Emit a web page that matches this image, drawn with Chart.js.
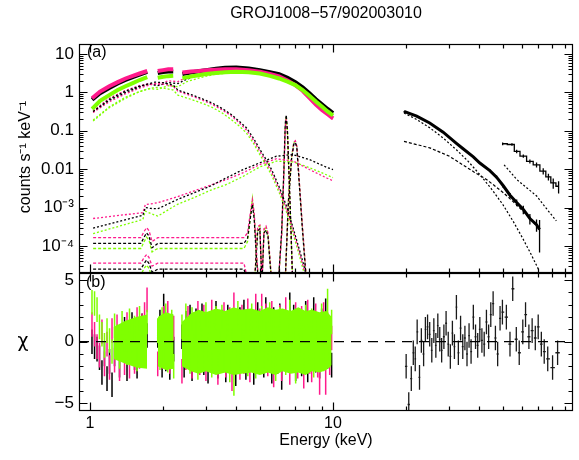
<!DOCTYPE html>
<html>
<head>
<meta charset="utf-8">
<title>GROJ1008-57/902003010</title>
<script src="https://cdn.jsdelivr.net/npm/chart.js@4.4.1/dist/chart.umd.min.js"></script>
<style>
  html, body { margin:0; padding:0; background:#fff; }
  #wrap { position:relative; width:579px; height:460px; overflow:hidden; background:#fff; }
  canvas { position:absolute; left:0; }
  #top { top:0; }
  #bot { top:273px; }
</style>
</head>
<body>
<div id="wrap">
  <canvas id="top" width="579" height="274" style="width:579px;height:274px"></canvas>
  <canvas id="bot" width="579" height="187" style="width:579px;height:187px"></canvas>
</div>
<script>
// ---------------- axis ranges and tick labels ----------------
const xMin = 0.901, xMax = 97.2;
const yTopMin = 1.98e-5, yTopMax = 18.2;
const yBotMin = -5.63, yBotMax = 5.58;
const xMajorTicks = [1, 10];
const xTickLabels = ['1', '10'];
const xMinorTicks = [2, 3, 4, 5, 6, 7, 8, 9, 20, 30, 40, 50, 60, 70, 80, 90];
const yTopTickVals = [1e-4, 1e-3, 0.01, 0.1, 1, 10];
const yTopTickLabels = ['10\u207B\u2074', '10\u207B\u00B3', '0.01', '0.1', '1', '10'];
const yBotTickVals = [-5, 0, 5];
const yBotTickLabels = ['\u22125', '0', '5'];
const yBotMinorTicks = [-4, -3, -2, -1, 1, 2, 3, 4];

// ---------------- top panel: data (three detectors, 1-10 keV) ----------------
const dE1 = [1.02, 1.1, 1.2, 1.3, 1.4, 1.5, 1.6, 1.72];
const dE2 = [1.9, 2.0, 2.1, 2.2];
const dE3 = [2.4, 2.6, 2.8, 3.0, 3.3, 3.6, 4.0, 4.5, 5.0, 5.5, 6.0, 6.5, 7.0, 7.5, 8.0, 8.5, 9.0, 9.5, 10.0];
const dataBlack1 = [0.65, 0.95, 1.3, 1.7, 2.1, 2.5, 2.9, 3.4];
const dataBlack2 = [3.2, 3.4, 3.5, 3.5];
const dataBlack3 = [3.0, 3.3, 3.55, 3.8, 4.1, 4.35, 4.45, 4.2, 3.8, 3.35, 3.0, 2.4, 1.85, 1.35, 0.95, 0.66, 0.49, 0.37, 0.29];
const dataPink1 = [0.7, 1.05, 1.45, 1.85, 2.3, 2.7, 3.1, 3.6];
const dataPink2 = [3.6, 3.8, 4.0, 4.0];
const dataPink3 = [3.3, 3.5, 3.6, 3.75, 3.9, 4.0, 4.0, 3.8, 3.45, 3.0, 2.6, 2.05, 1.55, 1.1, 0.72, 0.48, 0.35, 0.27, 0.21];
const dataGreen1 = [0.37, 0.6, 0.85, 1.15, 1.45, 1.75, 2.1, 2.5];
const dataGreen2 = [2.4, 2.55, 2.65, 2.7];
const dataGreen3 = [2.35, 2.6, 2.8, 3.0, 3.2, 3.35, 3.45, 3.35, 3.1, 2.7, 2.3, 1.9, 1.55, 1.15, 0.82, 0.58, 0.43, 0.32, 0.25];

// ---------------- top panel: model components ----------------
const softE = [1.03, 1.2, 1.4, 1.6, 1.75, 1.85, 2.0, 2.2, 2.3, 2.6, 2.9, 3.2, 3.5, 3.8, 4.1, 4.4, 4.7, 5.0, 5.3, 5.6, 6.0, 6.4, 6.8, 7.2, 7.6, 8.0];
const softBlack = [0.32, 0.62, 1.0, 1.4, 1.7, 1.85, 1.8, 1.55, 1.15, 0.88, 0.68, 0.52, 0.38, 0.27, 0.18, 0.12, 0.065, 0.033, 0.018, 0.0095, 0.0035, 0.0012, 3.5e-4, 1e-4, 3e-5, 8e-6];
const softPink = [0.3, 0.57, 0.92, 1.3, 1.55, 1.7, 1.65, 1.45, 1.08, 0.82, 0.63, 0.48, 0.35, 0.25, 0.165, 0.105, 0.057, 0.029, 0.0155, 0.0082, 0.003, 0.001, 3e-4, 8.5e-5, 2.5e-5, 7e-6];
const softGreen = [0.18, 0.4, 0.7, 1.05, 1.25, 1.35, 1.3, 1.15, 0.85, 0.66, 0.52, 0.4, 0.29, 0.2, 0.135, 0.088, 0.048, 0.024, 0.013, 0.0068, 0.0025, 8.5e-4, 2.5e-4, 7e-5, 2e-5, 6e-6];

const mainE = [1.03, 1.2, 1.4, 1.6, 1.75, 1.9, 2.1, 2.3, 2.5, 2.8, 3.2, 3.6, 4.0, 4.5, 5.0, 5.5, 6.0, 6.5, 7.0, 7.5, 8.0, 8.5, 9.0, 9.5, 10.0];
const mainBlack = [0.31, 0.66, 1.08, 1.45, 1.65, 1.5, 1.8, 1.7, 2.2, 2.8, 3.5, 3.95, 4.25, 4.15, 3.75, 3.3, 2.95, 2.35, 1.8, 1.3, 0.92, 0.64, 0.47, 0.36, 0.28];
const mainPink = [0.33, 0.7, 1.12, 1.5, 1.7, 1.6, 2.0, 1.9, 2.5, 3.0, 3.4, 3.65, 3.75, 3.65, 3.35, 2.95, 2.55, 2.0, 1.5, 1.07, 0.7, 0.47, 0.34, 0.26, 0.2];
const mainGreen = [0.19, 0.42, 0.75, 1.05, 1.25, 1.2, 1.5, 1.4, 1.9, 2.35, 2.9, 3.15, 3.3, 3.25, 3.05, 2.65, 2.25, 1.85, 1.5, 1.12, 0.8, 0.56, 0.42, 0.31, 0.24];

const hardE = [1.03, 1.65, 1.69, 1.78, 1.9, 2.28, 2.67, 3.12, 3.65, 4.27, 5.0, 5.85, 6.84, 8.0, 9.47, 10.0];
const hardPink = [5.2e-4, 7.4e-4, 1.2e-3, 1.25e-3, 1.34e-3, 1.9e-3, 2.7e-3, 3.8e-3, 5.4e-3, 8.1e-3, 0.0132, 0.0187, 0.0165, 0.0098, 5.8e-3, 5.0e-3];
const hardBlack = [2.9e-4, 6.3e-4, 1.0e-3, 9.5e-4, 9.3e-4, 1.6e-3, 2.4e-3, 3.6e-3, 6e-3, 9.8e-3, 0.0147, 0.0218, 0.024, 0.0178, 0.011, 9.8e-3];
const hardGreen = [2.1e-4, 4.9e-4, 8.1e-4, 7e-4, 6e-4, 1.2e-3, 1.8e-3, 2.8e-3, 4e-3, 6.5e-3, 0.0115, 0.0162, 0.0155, 0.011, 7e-3, 6e-3];

// Fe 6.4 keV line (with detector response features)
const lineAE = [1.03, 1.62, 1.67, 1.71, 1.75, 1.8, 1.86, 1.9, 4.3, 4.45, 4.58, 4.66, 4.74, 4.85, 4.95, 5.6, 5.95, 6.15, 6.28, 6.36, 6.42, 6.5, 6.6, 6.72, 6.85];
const lineAPink = [1.65e-4, 1.65e-4, 2.4e-4, 3.0e-4, 2.5e-4, 1.3e-4, 1.5e-4, 1.65e-4, 1.65e-4, 2.2e-4, 8e-4, 1.6e-3, 7e-4, 6e-5, 1e-5, 1e-5, 1e-5, 2e-4, 8e-3, 0.12, 0.21, 0.07, 5e-3, 2e-4, 5e-6];
const lineABlack = [1.17e-4, 1.17e-4, 1.7e-4, 2.2e-4, 1.8e-4, 9e-5, 1.05e-4, 1.17e-4, 1.17e-4, 1.6e-4, 6e-4, 1.2e-3, 5e-4, 4e-5, 1e-5, 1e-5, 1e-5, 2.5e-4, 0.01, 0.15, 0.26, 0.09, 6e-3, 2.5e-4, 5e-6];
const lineAGreen = [8.6e-5, 8.6e-5, 1.3e-4, 1.7e-4, 1.4e-4, 7e-5, 8e-5, 8.6e-5, 8.6e-5, 1.3e-4, 6.5e-4, 1.7e-3, 6e-4, 5e-5, 1e-5, 1e-5, 1e-5, 2e-4, 9e-3, 0.13, 0.24, 0.08, 5e-3, 2e-4, 5e-6];
// Fe 7.0 keV line
const lineBE = [1.03, 1.62, 1.67, 1.71, 1.75, 1.8, 1.86, 1.9, 4.3, 4.5, 4.75, 4.9, 5.0, 5.1, 5.2, 5.3, 5.4, 5.5, 5.6, 6.35, 6.55, 6.75, 6.9, 7.0, 7.1, 7.25, 7.45, 7.7, 7.95];
const lineBPink = [3.6e-5, 3.6e-5, 5e-5, 6e-5, 5e-5, 3e-5, 3.3e-5, 3.6e-5, 3.6e-5, 1e-5, 1e-5, 3.2e-4, 3.5e-4, 1e-5, 2.8e-4, 3.3e-4, 2.2e-4, 5e-5, 1e-5, 1e-5, 1.5e-3, 0.02, 0.05, 0.055, 0.04, 6e-3, 5e-4, 3e-5, 3e-6];
const lineBBlack = [2.5e-5, 2.5e-5, 3.5e-5, 4.3e-5, 3.5e-5, 2.1e-5, 2.3e-5, 2.5e-5, 2.5e-5, 1e-5, 1e-5, 2.5e-4, 2.8e-4, 1e-5, 2.2e-4, 2.6e-4, 1.8e-4, 4e-5, 1e-5, 1e-5, 1.2e-3, 0.018, 0.045, 0.05, 0.036, 5e-3, 4e-4, 2.5e-5, 3e-6];
const lineBGreen = [1.8e-5, 1.8e-5, 2.6e-5, 3.2e-5, 2.6e-5, 1.5e-5, 1.7e-5, 1.8e-5, 1.8e-5, 1e-5, 1e-5, 3e-4, 3.3e-4, 1e-5, 2.6e-4, 3e-4, 2e-4, 4.5e-5, 1e-5, 1e-5, 1.4e-3, 0.02, 0.05, 0.053, 0.038, 5.5e-3, 4.5e-4, 2.8e-5, 3e-6];

// ---------------- top panel: hard X-ray data and components ----------------
const heE = [19.6, 22.1, 25.0, 28.4, 32.2, 34.3, 37.8, 40.2, 44.2, 47.1, 50.2, 53.5, 57.0, 60.7, 64.6, 68.8, 70.8];
const heV = [0.32, 0.24, 0.16, 0.092, 0.047, 0.034, 0.021, 0.0145, 0.0092, 0.0062, 0.0037, 0.0021, 0.00135, 9e-4, 5.2e-4, 3.6e-4, 2.7e-4];
const heErr = [0.02, 0.02, 0.02, 0.03, 0.03, 0.04, 0.05, 0.06, 0.08, 0.1, 0.12, 0.15, 0.2, 0.25, 0.3, 0.35, 0.75];
const he2E = [49.9, 54.5, 57.0, 60.7, 64.6, 68.8, 73.3, 77.0, 80.6, 84.8];
const he2V = [0.046, 0.044, 0.029, 0.022, 0.016, 0.013, 8.9e-3, 6.3e-3, 4.4e-3, 3.6e-3];
const he2Err = [0.08, 0.08, 0.1, 0.1, 0.12, 0.15, 0.18, 0.2, 0.3, 0.35];
const heC1E = [19.6, 22, 25, 28.4, 32.2, 36, 40, 45, 50, 55, 60, 65, 70];
const heC1 = [0.29, 0.2, 0.12, 0.065, 0.032, 0.016, 7.5e-3, 3e-3, 1.2e-3, 4.5e-4, 1.7e-4, 6.5e-5, 2.5e-5];
const heC2E = [19.6, 25, 30, 34.2, 38, 42.8, 46, 50.4, 55, 60, 65, 70];
const heC2 = [0.053, 0.036, 0.022, 0.013, 8.5e-3, 5.4e-3, 3.8e-3, 2.4e-3, 1.45e-3, 8.5e-4, 5e-4, 3e-4];
const he2C1E = [50.6, 57, 63, 68.9, 75, 83];
const he2C1 = [0.013, 5.4e-3, 3.2e-3, 2e-3, 1e-3, 4.5e-4];

// ---------------- bottom panel: residuals (chi, each error bar +-1) ----------------
const resE1 = [1.019, 1.044, 1.069, 1.094, 1.120, 1.147, 1.175, 1.203, 1.232, 1.262, 1.292, 1.323, 1.355, 1.387, 1.420, 1.454, 1.489, 1.525, 1.562, 1.599, 1.638, 1.677, 1.717];
const resE2 = [1.90, 1.94, 1.98, 2.01, 2.05, 2.09, 2.13, 2.17, 2.21];
const resE3 = [2.39, 2.44, 2.48, 2.53, 2.58, 2.63, 2.68, 2.73, 2.78, 2.83, 2.89, 2.94, 3.00, 3.06, 3.11, 3.17, 3.23, 3.30, 3.36, 3.42, 3.49, 3.56, 3.62, 3.69, 3.76, 3.84, 3.91, 3.98, 4.06, 4.14, 4.22, 4.30, 4.38, 4.46, 4.55, 4.63, 4.72, 4.81, 4.90, 5.00, 5.09, 5.19, 5.29, 5.39, 5.49, 5.60, 5.70, 5.81, 5.92, 6.04, 6.15, 6.27, 6.39, 6.51, 6.64, 6.76, 6.89, 7.02, 7.16, 7.30, 7.43, 7.58, 7.72, 7.87, 8.02, 8.17, 8.33, 8.49, 8.65, 8.81, 8.98, 9.15, 9.33, 9.50, 9.69, 9.87];
const resGreen1 = [3.2, 3.1, 2.6, 1.2, 0.6, -0.3, 0.9, 0.1, -0.8, 1.3, 0.4, -1.2, 1.5, 0.2, -0.9, 1.7, -0.5, 1.1, -1.4, 1.9, 0.3, -0.7, 1.6];
const resPink1 = [1.4, 0.6, -0.4, -1.1, 0.8, -1.8, -0.2, -2.1, 0.9, -1.5, 1.2, -2.2, 0.5, -1.7, 1.4, -2.0, 0.7, -1.6, 1.8, -1.2, 1.3, 2.2, 3.4];
const resBlack1 = [0.0, -0.4, -0.6, -1.3, -2.5, -1.0, -3.0, -1.6, -3.5, -1.0, 0.3, -1.9, -0.6, 1.0, -2.2, 0.2, 1.4, -1.3, -2.0, 0.8, 1.3, -0.9, 0.5];
const resGreen2 = [0.9, -1.3, 1.8, -0.6, 2.1, -1.5, 0.4, 1.6, -2.0];
const resPink2 = [-1.8, 0.7, -1.2, 1.9, -0.8, 2.3, -1.6, 0.2, 1.1];
const resBlack2 = [0.5, 1.6, -1.9, 2.9, -1.4, 0.8, -2.1, 1.2, -0.6];
const resGreen3 = [1.2, -0.8, 2.1, 0.3, -1.6, 1.8, -0.4, 0.9, -2.1, 1.5,
  0.2, -1.2, 2.2, -0.6, 1.1, -1.9, 0.5, 1.9, -1.0, -0.2,
  2.0, -1.5, 0.7, 1.4, -2.3, 0.1, -3.4, -0.9, 2.3, -1.3,
  0.4, -0.1, 1.6, -1.8, 0.8, 2.1, -0.7, -2.0, 1.3, 0.0,
  1.9, -1.4, 0.6, -0.5, 2.2, -1.1, 1.0, -2.2, 0.3, 1.8,
  -0.8, 1.4, -1.7, 0.9, 2.4, -1.2, 0.2, -2.4, 1.5, -0.3,
  1.1, -1.6, 2.0, 0.4, -1.0, 1.7, -1.9, 0.7, 1.3, -0.6,
  2.1, -1.4, 0.5, 3.3, -1.1, 1.6];
const resPink3 = [-2.4, 0.6, -1.3, 1.9, -0.2, -2.0, 1.4, -0.9, 2.3, -1.7,
  0.8, 2.0, -2.2, 1.2, -0.5, 2.4, -1.4, 0.1, -2.5, 1.6,
  -0.7, 2.2, -1.9, 0.4, 1.8, -3.0, 3.0, -1.1, 0.9, -2.1,
  2.0, -1.6, -0.3, 2.5, -2.3, 1.0, -0.8, 2.9, -1.5, 1.7,
  2.9, 0.5, 2.1, -1.8, -0.4, 2.3, -2.7, 1.3, -1.0, 2.0,
  -2.2, 0.7, 2.6, -1.3, -2.5, 1.5, 0.2, 2.2, -2.0, -0.6,
  1.9, -2.8, 0.9, 2.4, -1.6, -2.3, 1.2, 2.1, -1.9, -3.3,
  0.6, 2.2, -3.3, 1.4, -1.7, 0.3];
const resBlack3 = [0.4, -1.9, 1.5, -0.6, 2.0, -2.2, 0.8, 1.7, -1.3, -0.1,
  2.1, -1.7, 0.3, -2.4, 1.4, 0.6, -1.1, 2.3, -2.0, 0.9,
  1.6, -0.4, -2.3, 2.0, 0.2, -1.5, 1.1, -2.6, 0.5, 1.8,
  -1.0, 2.4, -2.1, 0.7, -0.6, 1.5, -2.5, 0.3, 2.2, -1.2,
  1.0, -1.9, 2.6, -0.7, 0.5, -2.4, 1.8, -0.2, -1.6, 2.1,
  -2.9, 0.6, 1.3, 1.2, 3.0, 0.1, 2.0, -2.2, -0.9, 1.6,
  -1.8, 0.8, 2.3, -2.3, 1.1, -0.5, 2.6, -1.5, 0.4, -2.0,
  1.7, -0.8, 2.5, -1.2, 0.9, -1.9];
// dense core of the overlapping green residuals (envelope of the crowded bins)
const coreE1 = [1.25, 1.4, 1.55, 1.717];
const coreU1 = [1.2, 1.7, 2.0, 2.2];
const coreL1 = [-1.4, -1.8, -2.1, -2.2];
const coreE2 = [1.90, 2.05, 2.21];
const coreU2 = [2.0, 2.4, 2.2];
const coreL2 = [-2.0, -2.3, -2.2];
const coreE3 = [2.39, 2.6, 2.8, 3.0, 3.3, 3.6, 3.9, 4.2, 4.6, 5.0, 5.4, 5.8, 6.2, 6.7, 7.2, 7.7, 8.2, 8.8, 9.4, 9.87];
const coreU3 = [1.6, 2.3, 2.6, 2.4, 2.7, 2.5, 2.8, 2.6, 2.7, 2.5, 2.8, 2.6, 2.7, 2.5, 2.8, 2.5, 2.6, 2.4, 2.5, 2.0];
const coreL3 = [-2.0, -2.4, -2.6, -2.4, -2.7, -2.5, -2.7, -2.6, -2.5, -2.7, -2.5, -2.7, -2.4, -2.6, -2.5, -2.7, -2.4, -2.5, -2.3, -1.9];

// hard X-ray residuals (each chi error bar is +-1)
const heResE = [20.0, 20.5, 21.0, 21.4, 21.8, 22.2, 22.7, 23.1, 23.6, 24.0, 24.5, 25.0, 25.5, 26.0, 26.5, 27.0, 27.5, 28.0, 28.6, 29.2, 29.8, 30.4, 31.0, 31.6, 32.2, 32.8, 33.5, 34.2, 34.9, 35.6, 36.3, 37.0, 37.8, 38.6, 39.4, 40.2, 41.0, 41.9, 42.8, 43.7, 44.6, 45.6, 46.6, 47.6, 48.7, 49.8, 51.7, 53.5, 54.9, 56.8, 58.4, 60.4, 62.0, 64.0, 66.0, 68.0, 69.9, 72.0, 74.0, 76.5, 80.1, 84.0];
const heResV = [-2.0, -5.1, -3.0, -0.9, -1.4, 0.8, -2.9, 0.1, -1.0, 1.0, 1.2, 0.6, -0.7, 0.9, -0.3, 1.3, 0.2, -0.7, 0.4, 1.5, -0.2, -1.2, 0.7, -0.4, 2.8, -0.9, 1.1, -0.4, 0.3, -1.0, 0.5, -0.8, 2.0, 0.4, -0.3, 1.0, 0.1, -0.2, 1.6, 0.4, 2.2, 3.1, 0.3, -1.0, 1.9, 2.4, 2.0, -0.2, 4.3, 0.2, -0.9, 0.8, 2.2, 0.4, 0.9, 0.3, 1.2, -0.2, -0.8, -1.4, -2.1, -0.9];

// ---------------- styling ----------------
const FONT = '"Liberation Sans", Arial, Helvetica, sans-serif';
const C_BLACK = '#000000', C_PINK = '#ff1a8c', C_GREEN = '#7fff00';
Chart.defaults.font.family = FONT;
Chart.defaults.color = '#000';

function pts(xs, ys) { return xs.map((x, i) => ({ x: x, y: ys[i] })); }
function ds(xs, ys, color, opt) {
  return Object.assign({ data: pts(xs, ys), borderColor: color, backgroundColor: color,
    borderWidth: 1, pointRadius: 0, fill: false, tension: 0 }, opt || {});
}
function errPts(xs, ys, frac) {
  const out = [];
  xs.forEach((x, i) => { out.push({ x: x, y: ys[i] * (1 - frac[i]) }, { x: x, y: ys[i] * (1 + frac[i]) }, { x: x, y: null }); });
  return out;
}
function chiBars(xs, ys) {   // vertical +-1 chi error bars
  const out = [];
  xs.forEach((x, i) => { out.push({ x: x, y: ys[i] - 1 }, { x: x, y: ys[i] + 1 }, { x: x, y: null }); });
  return out;
}

// ---------------- top datasets ----------------
const DOT = [2, 2], DASH = [3, 2];
const topSets = [];
[[softBlack, C_BLACK], [softPink, C_PINK], [softGreen, C_GREEN]].forEach(([v, c]) => topSets.push(ds(softE, v, c, { borderDash: DOT, borderWidth: 1.3, order: 40 })));
[[mainBlack, C_BLACK], [mainPink, C_PINK], [mainGreen, C_GREEN]].forEach(([v, c]) => topSets.push(ds(mainE, v, c, { borderDash: DOT, borderWidth: 1.3, order: 40 })));
[[hardBlack, C_BLACK], [hardPink, C_PINK], [hardGreen, C_GREEN]].forEach(([v, c]) => topSets.push(ds(hardE, v, c, { borderDash: DOT, borderWidth: 1.3, order: 40 })));
[[lineABlack, C_BLACK], [lineAPink, C_PINK], [lineAGreen, C_GREEN]].forEach(([v, c]) => topSets.push(ds(lineAE, v, c, { borderDash: DASH, borderWidth: 1.3, order: 40 })));
[[lineBBlack, C_BLACK], [lineBPink, C_PINK], [lineBGreen, C_GREEN]].forEach(([v, c]) => topSets.push(ds(lineBE, v, c, { borderDash: DASH, borderWidth: 1.3, order: 40 })));
topSets.push(ds(heC1E, heC1, C_BLACK, { borderDash: DOT, borderWidth: 1.2, order: 40 }));
topSets.push(ds(heC2E, heC2, C_BLACK, { borderDash: DASH, borderWidth: 1.2, order: 40 }));
topSets.push(ds(he2C1E, he2C1, C_BLACK, { borderDash: DOT, borderWidth: 1.2, order: 40 }));
[[dE1, dataBlack1], [dE2, dataBlack2], [dE3, dataBlack3]].forEach(([e, v]) => topSets.push(ds(e, v, C_BLACK, { borderWidth: 4, order: 12 })));
[[dE1, dataPink1], [dE2, dataPink2], [dE3, dataPink3]].forEach(([e, v]) => topSets.push(ds(e, v, C_PINK, { borderWidth: 4, order: 11 })));
[[dE1, dataGreen1], [dE2, dataGreen2], [dE3, dataGreen3]].forEach(([e, v]) => topSets.push(ds(e, v, C_GREEN, { borderWidth: 4, order: 10 })));
topSets.push(ds(heE, heV, C_BLACK, { borderWidth: 3, order: 9 }));
topSets.push({ data: errPts(heE, heV, heErr), borderColor: C_BLACK, borderWidth: 1.3, pointRadius: 0, fill: false, order: 9 });
topSets.push(ds(he2E, he2V, C_BLACK, { borderWidth: 1.3, stepped: 'middle', order: 9 }));
topSets.push({ data: errPts(he2E, he2V, he2Err), borderColor: C_BLACK, borderWidth: 1.3, pointRadius: 0, fill: false, order: 9 });

// ---------------- bottom datasets ----------------
const botSets = [];
function barSet(xs, ys, color, order) {
  botSets.push({ data: chiBars(xs, ys), borderColor: color, borderWidth: 1.5, pointRadius: 0, fill: false, order: order });
}
[[resE1, resBlack1], [resE2, resBlack2], [resE3, resBlack3]].forEach(([e, v]) => barSet(e, v, C_BLACK, 30));
[[resE1, resPink1], [resE2, resPink2], [resE3, resPink3]].forEach(([e, v]) => barSet(e, v, C_PINK, 20));
[[coreE1, coreU1, coreL1], [coreE2, coreU2, coreL2], [coreE3, coreU3, coreL3]].forEach(([e, u, l]) => {
  botSets.push(ds(e, u, C_GREEN, { fill: '+1', borderWidth: 0, order: 15 }));
  botSets.push(ds(e, l, C_GREEN, { fill: false, borderWidth: 0, order: 15 }));
});
[[resE1, resGreen1], [resE2, resGreen2], [resE3, resGreen3]].forEach(([e, v]) => barSet(e, v, C_GREEN, 10));
const heResPts = [];
heResE.forEach((e, i) => {
  const v = heResV[i];
  const prev = i > 0 ? heResE[i - 1] : e - (heResE[1] - heResE[0]);
  const next = i < heResE.length - 1 ? heResE[i + 1] : e + (e - heResE[i - 1]);
  const lo = e - (e - prev) * 0.45, hi = e + (next - e) * 0.45;
  heResPts.push({ x: e, y: v - 1 }, { x: e, y: v + 1 }, { x: e, y: null },
                { x: lo, y: v }, { x: hi, y: v }, { x: hi, y: null });
});
botSets.push({ data: heResPts, borderColor: '#1a1a1a', borderWidth: 1.3, pointRadius: 0, fill: false, order: 5 });
botSets.push({ data: [{ x: xMin, y: 0 }, { x: xMax, y: 0 }], borderColor: '#000', borderWidth: 1.3, borderDash: [10, 7], pointRadius: 0, fill: false, order: 0 });

// ---------------- frame / ticks / texts plugin ----------------
function makeFrame(cfg) {
  return {
    id: 'frame_' + cfg.name,
    afterDatasetsDraw(chart) {
      const ctx = chart.ctx, a = chart.chartArea, xs = chart.scales.x, ys = chart.scales.y;
      const L = Math.round(a.left) + 0.5, R = Math.round(a.right) - 0.5, T = Math.round(a.top) + 0.5, B = Math.round(a.bottom) - 0.5;
      ctx.save();
      ctx.strokeStyle = '#000'; ctx.lineWidth = 1.2; ctx.setLineDash([]);
      ctx.beginPath();
      const xt = (vals, len) => vals.forEach(v => {
        const p = Math.round(xs.getPixelForValue(v)) + 0.5;
        if (p < a.left || p > a.right) return;
        ctx.moveTo(p, T); ctx.lineTo(p, T + len); ctx.moveTo(p, B); ctx.lineTo(p, B - len);
      });
      const yt = (vals, len) => vals.forEach(v => {
        const p = Math.round(ys.getPixelForValue(v)) + 0.5;
        if (p < a.top || p > a.bottom) return;
        ctx.moveTo(L, p); ctx.lineTo(L + len, p); ctx.moveTo(R, p); ctx.lineTo(R - len, p);
      });
      xt(xMajorTicks, 8); xt(xMinorTicks, 4);
      yt(cfg.yMajor, 8); yt(cfg.yMinor, 4);
      ctx.stroke();
      ctx.strokeRect(L, T, R - L, B - T);
      ctx.restore();
    },
    afterDraw(chart) {
      const ctx = chart.ctx;
      ctx.save();
      ctx.fillStyle = '#000';
      cfg.texts.forEach(t => {
        ctx.save();
        ctx.font = t.size + 'px ' + (t.family || FONT);
        ctx.textAlign = t.align || 'center';
        ctx.textBaseline = 'middle';
        ctx.translate(t.x, t.y);
        if (t.rot) ctx.rotate(t.rot);
        ctx.fillText(t.text, 0, 0);
        ctx.restore();
      });
      ctx.restore();
    }
  };
}

const yTopMinor = [];
[1e-5, 1e-4, 1e-3, 1e-2, 1e-1, 1, 10].forEach(d => { for (let k = 2; k <= 9; k++) yTopMinor.push(k * d); });

function labelFrom(vals, labels, v, isLog) {
  const i = vals.findIndex(t => isLog ? Math.abs(Math.log10(t) - Math.log10(v)) < 1e-6 : Math.abs(t - v) < 1e-9);
  return i >= 0 ? labels[i] : '';
}

// fixed axis boxes: no automatic label padding so the plot areas sit exactly where the panels are
function fixY(s) { s.width = 79; s.paddingTop = 0; s.paddingBottom = 0; }
function fixX(s) { s.height = 49; s.paddingLeft = 0; s.paddingRight = 0; }

const common = {
  responsive: false, animation: false, events: [],
  elements: { point: { radius: 0 }, line: { tension: 0 } },
  plugins: { legend: { display: false }, tooltip: { enabled: false }, title: { display: false } }
};
const noGrid = { display: false, drawTicks: false, tickLength: 0 };

new Chart(document.getElementById('top'), {
  type: 'line',
  data: { datasets: topSets },
  options: Object.assign({}, common, {
    layout: { padding: { top: 44, right: 6, bottom: 1, left: 0 } },
    scales: {
      x: { type: 'logarithmic', min: xMin, max: xMax, display: false },
      y: {
        type: 'logarithmic', min: yTopMin, max: yTopMax, position: 'left',
        afterFit: fixY,
        afterBuildTicks: s => { s.ticks = yTopTickVals.map(v => ({ value: v })); },
        ticks: { callback: v => labelFrom(yTopTickVals, yTopTickLabels, v, true), font: { size: 17 }, color: '#000', padding: 5, autoSkip: false, maxRotation: 0 },
        grid: noGrid, border: { display: false }
      }
    }
  }),
  plugins: [makeFrame({
    name: 'top', yMajor: yTopTickVals, yMinor: yTopMinor,
    texts: [
      { text: 'GROJ1008\u221257/902003010', x: 326, y: 14, size: 16 },
      { text: '(a)', x: 87, y: 53, size: 16, align: 'left' },
      { text: 'counts s\u207B\u00B9 keV\u207B\u00B9', x: 26, y: 157, size: 16, rot: -Math.PI / 2 }
    ]
  })]
});

new Chart(document.getElementById('bot'), {
  type: 'line',
  data: { datasets: botSets },
  options: Object.assign({}, common, {
    layout: { padding: { top: 0, right: 6, bottom: 0, left: 0 } },
    scales: {
      x: {
        type: 'logarithmic', min: xMin, max: xMax, position: 'bottom',
        afterFit: fixX,
        afterBuildTicks: s => { s.ticks = xMajorTicks.map(v => ({ value: v })); },
        ticks: { callback: v => labelFrom(xMajorTicks, xTickLabels, v, true), font: { size: 16 }, color: '#000', padding: 3, autoSkip: false, maxRotation: 0 },
        grid: noGrid, border: { display: false }
      },
      y: {
        type: 'linear', min: yBotMin, max: yBotMax, position: 'left',
        afterFit: fixY,
        afterBuildTicks: s => { s.ticks = yBotTickVals.map(v => ({ value: v })); },
        ticks: { callback: v => labelFrom(yBotTickVals, yBotTickLabels, v, false), font: { size: 17 }, color: '#000', padding: 5, autoSkip: false, maxRotation: 0 },
        grid: noGrid, border: { display: false }
      }
    }
  }),
  plugins: [makeFrame({
    name: 'bot', yMajor: yBotTickVals, yMinor: yBotMinorTicks,
    texts: [
      { text: '(b)', x: 86, y: 10, size: 16, align: 'left' },
      { text: '\u03C7', x: 23, y: 69, size: 19, family: '"DejaVu Sans", sans-serif' },
      { text: 'Energy (keV)', x: 326, y: 168, size: 16 }
    ]
  })]
});
</script>
</body>
</html>
